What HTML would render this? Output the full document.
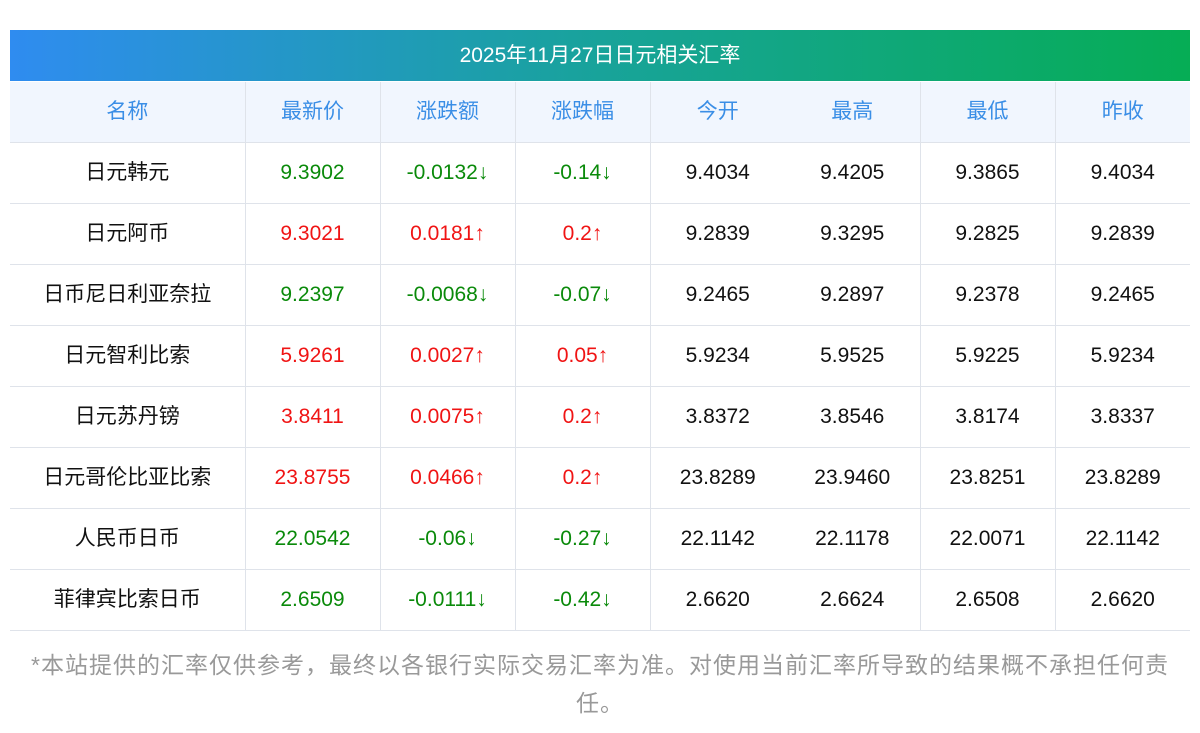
<!DOCTYPE html>
<html><head><meta charset="utf-8"><style>
body{margin:0;width:1200px;height:733px;background:#fff;font-family:"Liberation Sans","Noto Sans CJK SC",sans-serif;overflow:hidden}
.title{position:absolute;left:10px;top:30px;width:1180px;height:51px;background:linear-gradient(90deg,#2f8cf0,#18a39a 50%,#06ad55);color:#fff;font-size:21px;line-height:51px;text-align:center}
table{position:absolute;left:10px;top:82px;width:1180px;border-collapse:collapse;table-layout:fixed}
td{height:60px;line-height:60px;border-bottom:1px solid #dfe3ea;text-align:center;font-size:21px;color:#111;padding:0;vertical-align:middle;white-space:nowrap}
tr.h td{background:#f1f6fe;color:#3a8ee6}
td.b{border-right:1px solid #dfe3ea}
.g{color:#0a8a0a}.r{color:#f01414}
.note{position:absolute;left:10px;width:1180px;top:646px;font-size:23px;line-height:38px;color:#999;text-align:center;letter-spacing:1px}
</style></head><body>
<div class="title">2025年11月27日日元相关汇率</div>
<table>
<colgroup><col style="width:235px"><col style="width:135px"><col style="width:135px"><col style="width:135px"><col style="width:135px"><col style="width:135px"><col style="width:135px"><col style="width:135px"></colgroup>
<tr class="h"><td class="b">名称</td><td class="b">最新价</td><td class="b">涨跌额</td><td class="b">涨跌幅</td><td>今开</td><td class="b">最高</td><td class="b">最低</td><td>昨收</td></tr>
<tr><td class="b">日元韩元</td><td class="b g">9.3902</td><td class="b g">-0.0132↓</td><td class="b g">-0.14↓</td><td>9.4034</td><td class="b">9.4205</td><td class="b">9.3865</td><td>9.4034</td></tr>
<tr><td class="b">日元阿币</td><td class="b r">9.3021</td><td class="b r">0.0181↑</td><td class="b r">0.2↑</td><td>9.2839</td><td class="b">9.3295</td><td class="b">9.2825</td><td>9.2839</td></tr>
<tr><td class="b">日币尼日利亚奈拉</td><td class="b g">9.2397</td><td class="b g">-0.0068↓</td><td class="b g">-0.07↓</td><td>9.2465</td><td class="b">9.2897</td><td class="b">9.2378</td><td>9.2465</td></tr>
<tr><td class="b">日元智利比索</td><td class="b r">5.9261</td><td class="b r">0.0027↑</td><td class="b r">0.05↑</td><td>5.9234</td><td class="b">5.9525</td><td class="b">5.9225</td><td>5.9234</td></tr>
<tr><td class="b">日元苏丹镑</td><td class="b r">3.8411</td><td class="b r">0.0075↑</td><td class="b r">0.2↑</td><td>3.8372</td><td class="b">3.8546</td><td class="b">3.8174</td><td>3.8337</td></tr>
<tr><td class="b">日元哥伦比亚比索</td><td class="b r">23.8755</td><td class="b r">0.0466↑</td><td class="b r">0.2↑</td><td>23.8289</td><td class="b">23.9460</td><td class="b">23.8251</td><td>23.8289</td></tr>
<tr><td class="b">人民币日币</td><td class="b g">22.0542</td><td class="b g">-0.06↓</td><td class="b g">-0.27↓</td><td>22.1142</td><td class="b">22.1178</td><td class="b">22.0071</td><td>22.1142</td></tr>
<tr><td class="b">菲律宾比索日币</td><td class="b g">2.6509</td><td class="b g">-0.0111↓</td><td class="b g">-0.42↓</td><td>2.6620</td><td class="b">2.6624</td><td class="b">2.6508</td><td>2.6620</td></tr>
</table>
<div class="note">*本站提供的汇率仅供参考，最终以各银行实际交易汇率为准。对使用当前汇率所导致的结果概不承担任何责<br>任。</div>
</body></html>
